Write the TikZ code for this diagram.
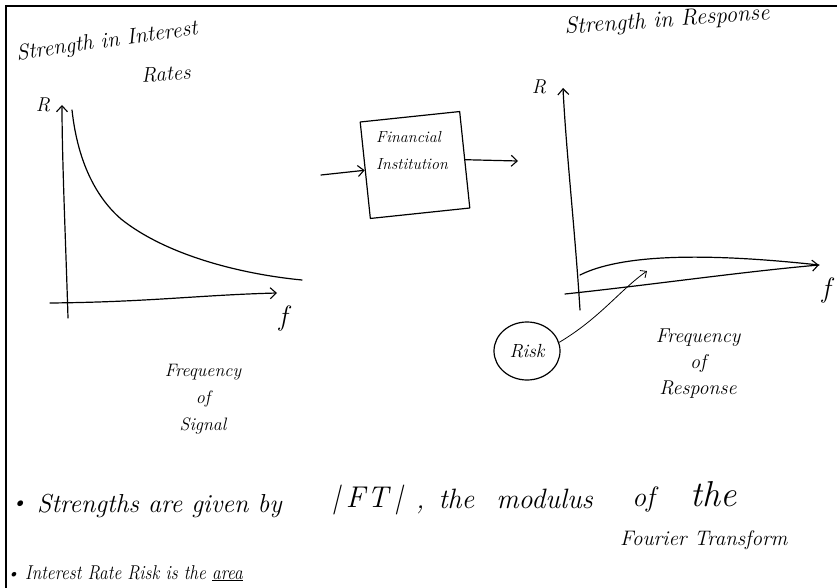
\documentclass[tikz,border=0pt]{standalone}
\usetikzlibrary{arrows.meta,shapes.geometric}
\newcommand\hwsize[2]{\fontsize{#1}{#2}\selectfont\itshape}
\begin{document}
\begin{tikzpicture}[x=1pt,y=-1pt,
  ink/.style={line width=1.2pt, line cap=round, line join=round},
  arr/.style={ink,-{Straight Barb[length=6pt,width=11pt,line width=1.1pt]}},
  thinarr/.style={line width=0.8pt, line cap=round,-{Straight Barb[length=5pt,width=9pt,line width=0.8pt]}},
  hand/.style={inner sep=0pt, text=black},
]
\useasboundingbox (0,0) rectangle (837,588);
\fill[white] (0,0) rectangle (837,588);
\draw[line width=1.6pt] (837,6) -- (6,6) -- (6,588);

% ---------- left graph ----------
\node[hand, rotate=8, font=\hwsize{22}{24}] (ltitle) at (107,42) {Strength in Interest};
\node[hand, rotate=4, font=\hwsize{21}{24}] (ltitle2) at (166,74) {Rates};
\coordinate (ly0) at (68,318);
\coordinate (ly1) at (62,105);
\draw[arr] (ly0) .. controls (66,250) and (62,160) .. (ly1);
\coordinate (lx0) at (50,303);
\coordinate (lx1) at (277,293);
\draw[arr] (lx0) .. controls (150,302) and (200,295) .. (lx1);
\node[hand, font=\hwsize{20}{24}] (lR) at (43,105) {R};
\node[hand, font=\hwsize{28}{30}] (lf) at (283,318) {f};
\coordinate (lc0) at (72,110);
\coordinate (lc1) at (121,219);
\coordinate (lc2) at (302,280);
\draw[ink] (lc0) .. controls (78,165) and (98,199) .. (lc1) .. controls (166,255) and (240,274) .. (lc2);
\node[hand, align=center, font=\hwsize{18}{27}] (sig) at (203,399) {Frequency\\of\\Signal};

% ---------- institution ----------
\node[draw, ink, minimum width=100pt, minimum height=97pt, rotate=6, inner sep=0pt] (fi) at (415,165) {};
\node[hand, align=left, font=\hwsize{16}{27}] (fit) at (412,151) {Financial\\Institution};
\coordinate (in) at (321,175);
\coordinate (out) at (518,161);
\draw[arr] (in) -- (fi.west);
\draw[arr] (fi.east) -- (out);

% ---------- right graph ----------
\node[hand, rotate=4, font=\hwsize{23}{24}] (rtitle) at (667,21) {Strength in Response};
\coordinate (ry0) at (580,310);
\coordinate (ry1) at (563,88);
\draw[arr] (ry0) .. controls (575,230) and (566,150) .. (ry1);
\node[hand, font=\hwsize{20}{24}] (rR) at (539,87) {R};
\coordinate (rx0) at (565,294);
\coordinate (rx1) at (819,265);
\draw[arr] (rx0) .. controls (650,285) and (740,272) .. (rx1);
\coordinate (rc0) at (580,275);
\draw[ink] (rc0) .. controls (620,255) and (700,252) .. (rx1);
\node[hand, font=\hwsize{28}{30}] (rf) at (826,290) {f};
\node[draw, ellipse, ink, minimum width=66pt, minimum height=58pt, inner sep=0pt, font=\hwsize{19}{20}] (risk) at (527,351) {Risk};
\coordinate (area) at (647,271);
\draw[thinarr] (risk.15) .. controls (600,318) and (620,290) .. (area);
\node[hand, align=center, font=\hwsize{20}{26}] (fr) at (698,364) {Frequency\\of\\Response};

% ---------- notes ----------
\node[hand, font=\hwsize{20}{24}] (b1) at (19,505) {\textbullet};
\node[hand, anchor=base west, font=\hwsize{26}{28}] (s1) at (37,512) {Strengths are given by};
\node[hand, font=\hwsize{30}{32}] (ft) at (367,500) {|\hspace{6pt}F\hspace{2pt}T\hspace{6pt}|};
\node[hand, anchor=base west, font=\hwsize{28}{28}] (s2) at (416,508) {,\hspace{14pt}the\hspace{22pt}modulus};
\node[hand, anchor=base west, font=\hwsize{28}{28}] (s3) at (632,506) {of\hspace{36pt}{\fontsize{36}{36}\selectfont the}};
\node[hand, anchor=base west, font=\hwsize{21}{24}] (s4) at (620,545) {Fourier Transform};
\node[hand, font=\hwsize{16}{20}] (b2) at (13,575) {\textbullet};
\node[hand, anchor=base west, font=\hwsize{20}{20}] (s5) at (25,579) {\scalebox{0.87}[1]{Interest Rate Risk is the \underline{area}}};
\end{tikzpicture}
\end{document}
